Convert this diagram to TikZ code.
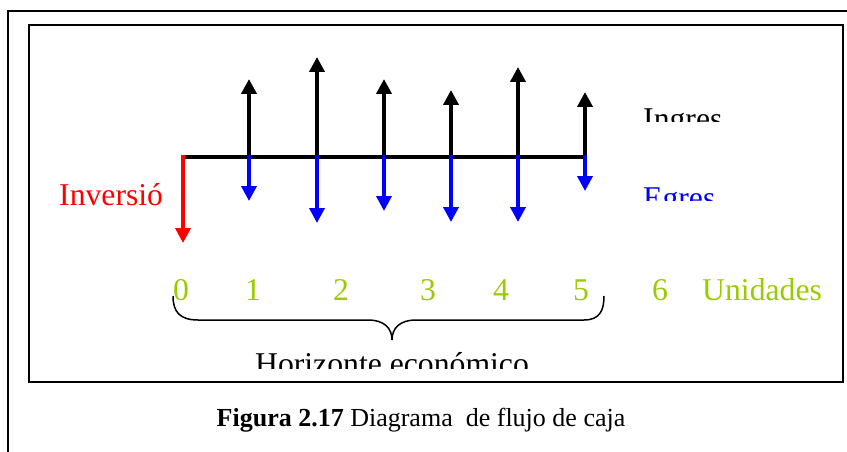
\documentclass[tikz,border=0pt]{standalone}
\usepackage{fontspec}
\setmainfont{Liberation Serif}
\usetikzlibrary{arrows.meta}
\definecolor{lime}{HTML}{99CC00}
\tikzset{
  frameline/.style={line width=2pt,draw=black},
  flowin/.style={line width=4pt,draw=black,-{Triangle[width=15pt,length=15pt]}},
  flowout/.style={line width=3.6pt,draw=blue,-{Triangle[width=15pt,length=15pt]}},
  flowinv/.style={line width=3.6pt,draw=red,-{Triangle[width=15pt,length=15pt]}},
  axisline/.style={line width=4.5pt,draw=black},
  lbl/.style={inner sep=0pt,anchor=base west,font=\fontsize{31.7}{36}\selectfont},
  num/.style={inner sep=0pt,anchor=base,text=lime,font=\fontsize{31.7}{36}\selectfont},
  bracel/.style={line width=1.5pt,draw=black},
  captiontext/.style={inner sep=0pt,anchor=base,font=\fontsize{26}{30}\selectfont}
}
\begin{document}
\begin{tikzpicture}[x=1pt,y=-1pt]
\useasboundingbox (0,0) rectangle (847,452);
% frames
\draw[frameline] (8,470) -- (8,11) -- (870,11);
\draw[frameline] (29,25) rectangle (843,382);
% axis
\coordinate (t0) at (183,157);
\coordinate (t1) at (249,157);
\coordinate (t2) at (317,157);
\coordinate (t3) at (384,157);
\coordinate (t4) at (451,157);
\coordinate (t5) at (518,157);
\coordinate (t6) at (585,157);
\draw[axisline] ([xshift=-1pt]t0) -- ([xshift=2pt]t6);
% inflows (up)
\coordinate (u1) at (249,79);
\coordinate (u2) at (317,57);
\coordinate (u3) at (384,79);
\coordinate (u4) at (451,90);
\coordinate (u5) at (518,67);
\coordinate (u6) at (585,92);
\foreach \i in {1,...,6}{\draw[flowin] (t\i) -- (u\i);}
% outflows (down)
\coordinate (d1) at (249,201);
\coordinate (d2) at (317,223);
\coordinate (d3) at (384,211);
\coordinate (d4) at (451,222);
\coordinate (d5) at (518,222);
\coordinate (d6) at (585,191);
\foreach \i in {1,...,6}{\draw[flowout] ([yshift=2pt]t\i) -- (d\i);}
% investment
\coordinate (d0) at (183,243);
\draw[flowinv] ([yshift=2pt]t0) -- (d0);
% labels
\node[lbl,text=red] (inv) at (59,205) {Inversió};
\begin{scope}
  \clip (600,90) rectangle (780,122);
  \node[lbl,text=black] (ing) at (643,129) {Ingres};
\end{scope}
\begin{scope}
  \clip (600,170) rectangle (780,200);
  \node[lbl,text=blue] (egr) at (643,208) {Egres};
\end{scope}
% numbers
\node[num] (n0) at (181,300) {0};
\node[num] (n1) at (253,300) {1};
\node[num] (n2) at (341,300) {2};
\node[num] (n3) at (428,300) {3};
\node[num] (n4) at (501,300) {4};
\node[num] (n5) at (581,300) {5};
\node[num] (n6) at (660,300) {6};
\node[lbl,text=lime] (uni) at (702,300) {Unidades};
% brace
\coordinate (bl) at (173,296);
\coordinate (bm) at (392,340);
\coordinate (br) at (604,296);
\draw[bracel] (bl) .. controls (173,312) and (180,320) .. (198,320) -- (368,320)
  .. controls (384,320) and (392,328) .. (bm)
  .. controls (392,328) and (400,320) .. (416,320) -- (584,320)
  .. controls (600,320) and (604,310) .. (br);
\begin{scope}
  \clip (200,340) rectangle (600,368);
  \node[inner sep=0pt,anchor=base,font=\fontsize{31.7}{36}\selectfont] (hor) at (392,374) {Horizonte económico};
\end{scope}
% caption
\node[captiontext] (capt) at (421,426) {\textbf{Figura 2.17} Diagrama\ \ de flujo de caja};
\end{tikzpicture}
\end{document}
